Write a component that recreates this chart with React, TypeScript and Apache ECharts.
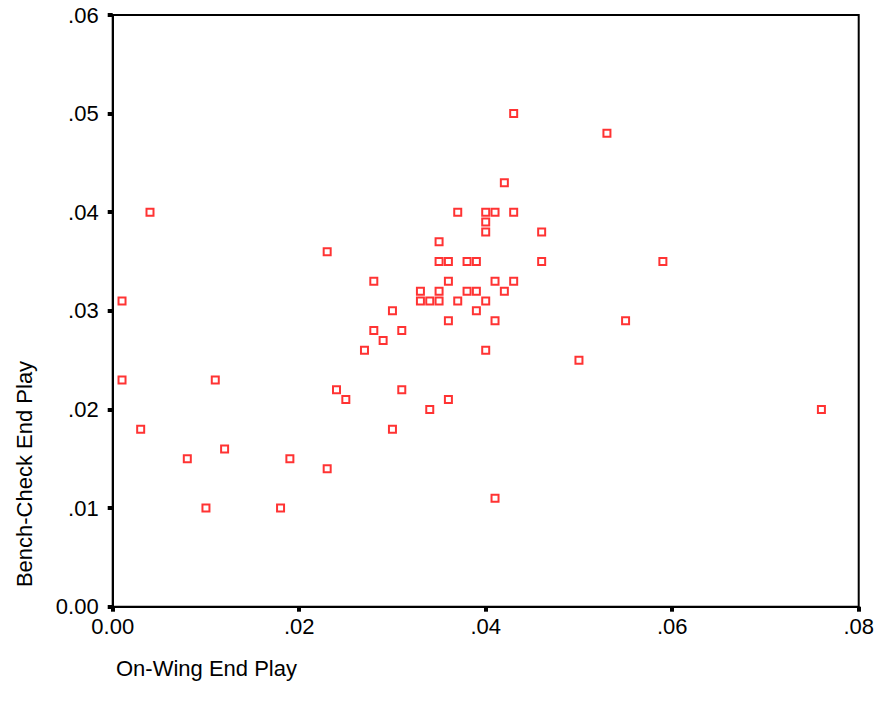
import React, { useEffect, useRef } from "react";
import * as echarts from "echarts";

const xValues = [
  0.001, 0.001, 0.004, 0.003, 0.008, 0.010, 0.011, 0.012, 0.018, 0.019,
  0.023, 0.023, 0.024, 0.025, 0.027, 0.028, 0.028, 0.029, 0.030, 0.030,
  0.031, 0.031, 0.033, 0.033, 0.034, 0.034, 0.035, 0.035, 0.035, 0.035,
  0.036, 0.036, 0.036, 0.036, 0.037, 0.037, 0.038, 0.038, 0.039, 0.039,
  0.039, 0.040, 0.040, 0.040, 0.040, 0.040, 0.041, 0.041, 0.041, 0.041,
  0.042, 0.042, 0.043, 0.043, 0.043, 0.046, 0.046, 0.050, 0.053, 0.055,
  0.059, 0.076,
];
const yValues = [
  0.031, 0.023, 0.040, 0.018, 0.015, 0.010, 0.023, 0.016, 0.010, 0.015,
  0.036, 0.014, 0.022, 0.021, 0.026, 0.033, 0.028, 0.027, 0.030, 0.018,
  0.028, 0.022, 0.032, 0.031, 0.031, 0.020, 0.037, 0.035, 0.032, 0.031,
  0.035, 0.033, 0.029, 0.021, 0.040, 0.031, 0.035, 0.032, 0.035, 0.032,
  0.030, 0.040, 0.039, 0.038, 0.031, 0.026, 0.040, 0.033, 0.029, 0.011,
  0.043, 0.032, 0.050, 0.040, 0.033, 0.038, 0.035, 0.025, 0.048, 0.029,
  0.035, 0.020,
];
const xTitle = "On-Wing End Play";
const yTitle = "Bench-Check End Play";

const fmt = (v: number) => {
  const n = Math.round(v * 100);
  return n === 0 ? "0.00" : "." + String(n).padStart(2, "0");
};

const FONT = "'Liberation Sans', Arial, sans-serif";

export default function App() {
  const ref = useRef<HTMLDivElement>(null);
  useEffect(() => {
    if (!ref.current) return;
    const chart = echarts.init(ref.current, undefined, { renderer: "svg" });
    const axisCommon = {
      type: "value" as const,
      splitLine: { show: false },
      axisLine: { show: true, onZero: false, lineStyle: { color: "#000", width: 2 } },
      axisTick: { show: true, length: 5, lineStyle: { color: "#000", width: 4 } },
      axisLabel: {
        formatter: fmt,
        color: "#000",
        fontSize: 22,
        fontFamily: FONT,
        showMinLabel: true,
        showMaxLabel: true,
      },
    };
    chart.setOption({
      animation: false,
      backgroundColor: "#fff",
      grid: {
        left: 112.7,
        right: 14.3,
        top: 15,
        bottom: 105.3,
        show: true,
        borderColor: "#000",
        borderWidth: 2,
        backgroundColor: "transparent",
      },
      xAxis: {
        ...axisCommon,
        min: 0,
        max: 0.08,
        interval: 0.02,
        axisLabel: { ...axisCommon.axisLabel, margin: 9 },
      },
      yAxis: {
        ...axisCommon,
        min: 0,
        max: 0.06,
        interval: 0.01,
        axisLabel: { ...axisCommon.axisLabel, margin: 14 },
      },
      graphic: [
        {
          type: "text",
          x: 24,
          y: 474,
          rotation: Math.PI / 2,
          style: {
            text: yTitle,
            fill: "#000",
            font: `22px ${FONT}`,
            textAlign: "center",
            textVerticalAlign: "middle",
          },
        },
        {
          type: "text",
          x: 116,
          y: 668,
          style: {
            text: xTitle,
            fill: "#000",
            font: `22px ${FONT}`,
            textAlign: "left",
            textVerticalAlign: "middle",
          },
        },
      ],
      series: [
        {
          type: "scatter",
          data: xValues.map((x, i) => [x, yValues[i]]),
          symbol: "rect",
          symbolSize: 7,
          itemStyle: { color: "transparent", borderColor: "#ff0000", borderWidth: 2 },
        },
      ],
    });
    return () => chart.dispose();
  }, []);
  return (
    <div
      ref={ref}
      style={{ position: "absolute", left: 0, top: 0, width: 877, height: 712 }}
    />
  );
}
